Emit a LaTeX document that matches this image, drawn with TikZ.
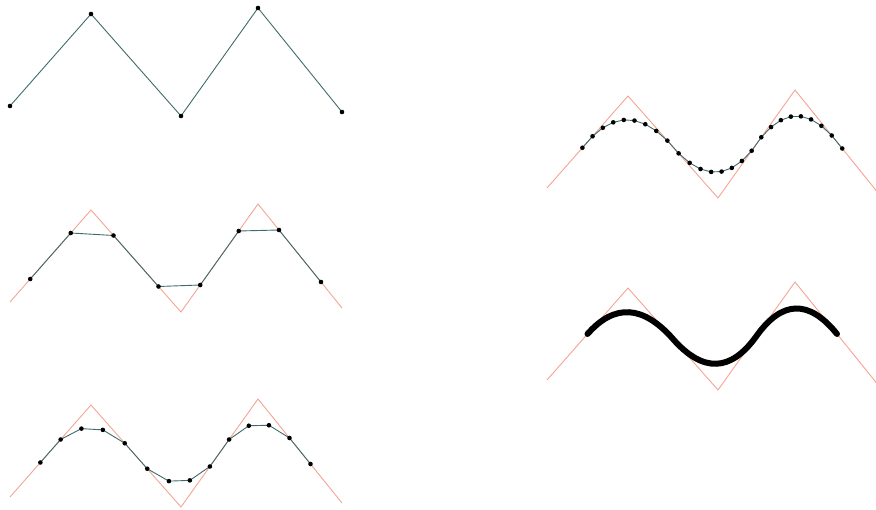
\documentclass[tikz,border=0pt]{standalone}
\usepackage{xcolor}
\definecolor{CtrlRed}{HTML}{F4A492}
\definecolor{CutTeal}{HTML}{3E6B6B}
\usepackage{tikz}
\usetikzlibrary{calc}

\begin{document}
\begin{tikzpicture}[x=1pt, y=-1pt,
  ctrl/.style={draw=CtrlRed, line width=0.9pt},
  cut/.style={draw=CutTeal, line width=0.9pt},
  dot/.style={fill=black},
  limit/.style={draw=black, line width=6pt, line cap=round},
]
\useasboundingbox (0,0) rectangle (876,510);
% control polygon, one copy per panel
\foreach \p/\dx/\dy in {a/0/0,b/0/196,c/0/391,d/537/82,e/537/274} {
  \foreach \x/\y [count=\i from 0] in {10/106,91/14,181/116,258/8,342/112}
    \coordinate (\p0-\i) at (\x+\dx,\y+\dy);
}
% first panel: the polygon itself
\draw[cut] (a0-0) \foreach \i in {1,...,4} {-- (a0-\i)};
\foreach \i in {0,...,4} \fill[dot] (a0-\i) circle (2.3pt);

% corner cutting, 1, 2 and 3 times
\foreach \p/\lv in {b/1,c/2,d/3} {
  \foreach \k in {1,...,\lv} {
    \pgfmathtruncatemacro\km{\k-1}
    \pgfmathtruncatemacro\m{3*2^(\k-1)}
    \foreach \i in {0,...,\m} {
      \pgfmathtruncatemacro\j{\i+1}
      \pgfmathtruncatemacro\s{2*\i}
      \pgfmathtruncatemacro\t{2*\i+1}
      \coordinate (\p\k-\s) at ($(\p\km-\i)!0.25!(\p\km-\j)$);
      \coordinate (\p\k-\t) at ($(\p\km-\i)!0.75!(\p\km-\j)$);
    }
  }
  \pgfmathtruncatemacro\n{3*2^\lv+1}
  \draw[ctrl] (\p0-0) \foreach \i in {1,...,4} {-- (\p0-\i)};
  \draw[cut] (\p\lv-0) \foreach \i in {1,...,\n} {-- (\p\lv-\i)};
  \foreach \i in {0,...,\n} \fill[dot] (\p\lv-\i) circle (2.3pt);
}

% limit curve
\draw[ctrl] (e0-0) \foreach \i in {1,...,4} {-- (e0-\i)};
\foreach \i [count=\j from 1] in {0,...,3}
  \coordinate (em-\i) at ($(e0-\i)!0.5!(e0-\j)$);
\draw[limit] (em-0)
  .. controls ($(em-0)!2/3!(e0-1)$) and ($(em-1)!2/3!(e0-1)$) .. (em-1)
  .. controls ($(em-1)!2/3!(e0-2)$) and ($(em-2)!2/3!(e0-2)$) .. (em-2)
  .. controls ($(em-2)!2/3!(e0-3)$) and ($(em-3)!2/3!(e0-3)$) .. (em-3);
\end{tikzpicture}
\end{document}
